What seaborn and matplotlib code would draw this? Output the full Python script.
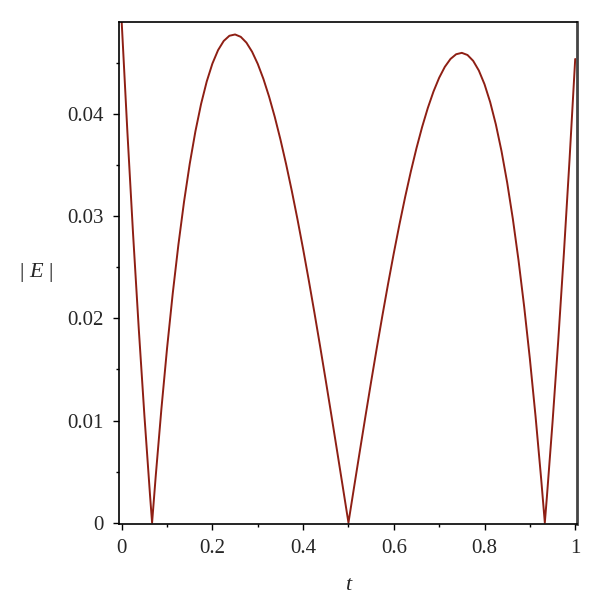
import numpy as np
import pandas as pd
import matplotlib
matplotlib.use("Agg")
import matplotlib.pyplot as plt
import seaborn as sns
from matplotlib.ticker import MultipleLocator, FuncFormatter

# values (|E| in units of 1e-3)
t_values = [0.0, 0.0125, 0.025, 0.0375, 0.05, 0.0625, 0.067, 0.075, 0.0875, 0.1,
            0.1125, 0.125, 0.1375, 0.15, 0.1625, 0.175, 0.1875, 0.2, 0.2125, 0.225,
            0.2375, 0.25, 0.2625, 0.275, 0.2875, 0.3, 0.3125, 0.325, 0.3375, 0.35,
            0.3625, 0.375, 0.3875, 0.4, 0.4125, 0.425, 0.4375, 0.45, 0.4625, 0.475,
            0.4875, 0.5, 0.5125, 0.525, 0.5375, 0.55, 0.5625, 0.575, 0.5875, 0.6,
            0.6125, 0.625, 0.6375, 0.65, 0.6625, 0.675, 0.6875, 0.7, 0.7125, 0.725,
            0.7375, 0.75, 0.7625, 0.775, 0.7875, 0.8, 0.8125, 0.825, 0.8375, 0.85,
            0.8625, 0.875, 0.8875, 0.9, 0.9125, 0.925, 0.933, 0.9375, 0.95, 0.9625,
            0.975, 0.9875, 1.0]
e_milli = [49.000, 38.289, 28.320, 19.074, 10.529, 2.662, 0.0, 4.546, 11.116, 17.071,
           22.428, 27.211, 31.438, 35.130, 38.308, 40.990, 43.198, 44.950, 46.267, 47.168,
           47.673, 47.800, 47.569, 47.000, 46.110, 44.919, 43.446, 41.710, 39.729, 37.522,
           35.106, 32.502, 29.725, 26.796, 23.731, 20.550, 17.269, 13.907, 10.481, 7.010,
           3.511, 0.0, 3.504, 6.983, 10.421, 13.801, 17.104, 20.314, 23.414, 26.387,
           29.215, 31.883, 34.372, 36.666, 38.749, 40.603, 42.212, 43.560, 44.629, 45.403,
           45.865, 46.000, 45.790, 45.219, 44.270, 42.929, 41.176, 38.998, 36.376, 33.296,
           29.740, 25.692, 21.137, 16.057, 10.437, 4.260, 0.0, 2.490, 9.829, 17.773,
           26.339, 35.543, 45.400]

x_ticks = [0, 0.2, 0.4, 0.6, 0.8, 1]
y_ticks = [0, 0.01, 0.02, 0.03, 0.04]

df = pd.DataFrame({"t": t_values, "E": np.array(e_milli) / 1000.0})

sns.set_style("ticks")
plt.rcParams['font.family'] = ['Liberation Serif', 'DejaVu Serif']
plt.rcParams['mathtext.fontset'] = 'custom'
plt.rcParams['mathtext.it'] = 'Liberation Serif:italic'

fig = plt.figure(figsize=(6.0, 6.08), dpi=100)
ax = fig.add_axes([0.1983, 0.1382, 0.7634, 0.8256])

sns.lineplot(data=df, x="t", y="E", ax=ax, color="#8e1f14", linewidth=1.4, sort=False)

ax.set_xlim(-0.006, 1.004)
ax.set_ylim(-0.000127, 0.04902)
ax.set_xticks(x_ticks)
ax.set_yticks(y_ticks)
ax.xaxis.set_minor_locator(MultipleLocator(0.1))
ax.yaxis.set_minor_locator(MultipleLocator(0.005))
fmt = FuncFormatter(lambda v, p: "{:g}".format(round(v, 4)))
ax.xaxis.set_major_formatter(fmt)
ax.yaxis.set_major_formatter(fmt)

ax.tick_params(axis="both", which="major", direction="out", length=4.3, width=1.0,
               labelsize=15, color="black", pad=6.5)
ax.tick_params(axis="both", which="minor", direction="out", length=2.5, width=1.0, color="black")

for side in ["left", "bottom", "top"]:
    ax.spines[side].set_color("black")
    ax.spines[side].set_linewidth(1.2)
ax.spines["right"].set_color("#444444")
ax.spines["right"].set_linewidth(2.0)

ax.set_xlabel("")
ax.set_ylabel("")
fig.text(348 / 600, 1 - 585 / 608, "t", style="italic", fontsize=16, ha="center", va="center")
fig.text(36 / 600, 1 - 273 / 608, "| $E$ |", fontsize=16, ha="center", va="center")

fig.savefig("out.png", dpi=100)
